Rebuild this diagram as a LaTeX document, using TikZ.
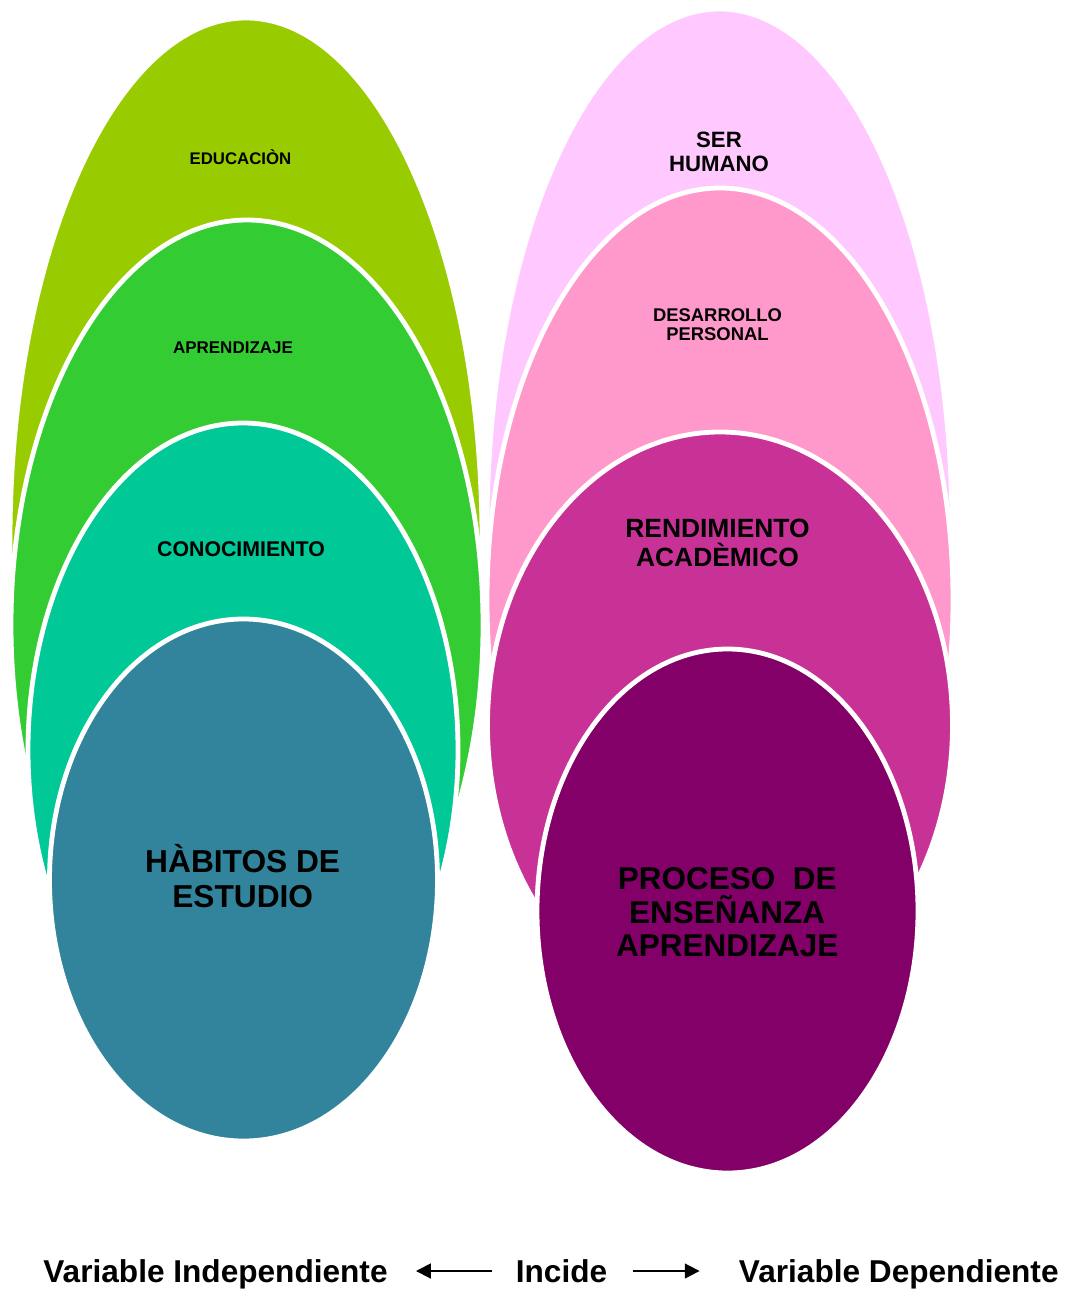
\documentclass[tikz,border=0pt]{standalone}
\usepackage{fontspec}
\setmainfont{Liberation Sans}
\usepackage{tikz}
\usetikzlibrary{calc,shapes,positioning}
\usetikzlibrary{arrows.meta}
\tikzset{>={Triangle[width=2.6mm,length=2.6mm]}}

\definecolor{cedu}{RGB}{153,204,0}
\definecolor{capr}{RGB}{51,204,51}
\definecolor{ccon}{RGB}{0,200,150}
\definecolor{chab}{RGB}{49,132,155}
\definecolor{cser}{RGB}{255,200,255}
\definecolor{cdes}{RGB}{255,153,204}
\definecolor{cren}{RGB}{200,50,150}
\definecolor{cpro}{RGB}{130,0,104}

\begin{document}
\begin{tikzpicture}[x=0.5pt,y=-0.5pt]
      \useasboundingbox (0,0) rectangle (1069,1291);
      \begin{scope}
        \tikzstyle{enode} = [draw=white, line width=2.4pt, ellipse, inner sep=0pt]
        \tikzstyle{vnode} = [inner sep=0pt, text height=11.4pt, text depth=0pt, font=\bfseries\fontsize{15.8}{18}\selectfont]
        \tikzstyle{arr} = [->, line width=1pt]
        \tikzset{tnode/.style 2 args={align=center, inner sep=0pt, font=\bfseries\fontsize{#1}{#2}\selectfont}}

        % variable independiente
        \node[enode, fill=cedu, minimum width=236pt, minimum height=522pt] (edu) at (246,540) {};
        \node[tnode={8.4}{10}] at ($(edu) + (-5.5,-383)$) {EDUCACIÒN};
        \node[enode, fill=capr, minimum width=236pt, minimum height=405pt] (apr) at (247,625) {};
        \node[tnode={8.5}{10}] at ($(apr) + (-14,-277)$) {APRENDIZAJE};
        \node[enode, fill=ccon, minimum width=215pt, minimum height=327pt] (con) at (243,750) {};
        \node[tnode={10.65}{12}] at ($(con) + (-2,-200.5)$) {CONOCIMIENTO};
        \node[enode, fill=chab, minimum width=194pt, minimum height=261pt] (hab) at (243.5,880) {};
        \node[tnode={15.85}{17.5}] at ($(hab) + (-0.8,-4)$) {HÀBITOS DE\\ESTUDIO};

        % variable dependiente
        \node[enode, fill=cser, minimum width=232.5pt, minimum height=521pt] (ser) at (719.5,530) {};
        \node[tnode={11.1}{12}] at ($(ser) + (-0.5,-378)$) {SER\\HUMANO};
        \node[enode, fill=cdes, minimum width=233pt, minimum height=412pt] (des) at (720,600) {};
        \node[tnode={9.2}{9.2}] at ($(des) + (-2.5,-275.5)$) {DESARROLLO\\PERSONAL};
        \node[enode, fill=cren, minimum width=232.5pt, minimum height=293pt] (ren) at (720,725) {};
        \node[tnode={13.2}{14.5}] at ($(ren) + (-2.5,-182.5)$) {RENDIMIENTO\\ACADÈMICO};
        \node[enode, fill=cpro, minimum width=190.5pt, minimum height=262pt] (pro) at (727.5,911) {};
        \node[tnode={15.75}{16.75}] at ($(pro) + (-0.3,1.5)$) {PROCESO\ \ DE\\ENSEÑANZA\\APRENDIZAJE};

        \node[vnode, anchor=west] (vi) at (43,1271) {Variable Independiente};
        \node[vnode] (inc) at (561.5,1271) {Incide};
        \node[vnode, anchor=east] (vd) at (1059,1271) {Variable Dependiente};
        \path[arr]
        (inc.west) edge[shorten <=11.5pt, shorten >=14pt] (vi.east)
        (inc.east) edge[shorten <=12.5pt, shorten >=19.5pt] (vd.west)
        ;
      \end{scope}
    \end{tikzpicture}
\end{document}
